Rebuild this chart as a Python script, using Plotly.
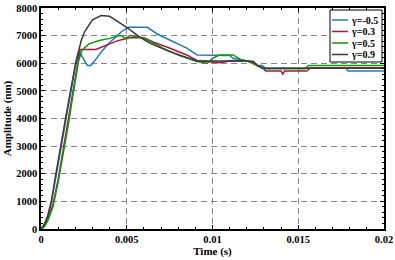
import plotly.graph_objects as go

# gamma = -0.5
t_a = [0, 0.0002, 0.0004, 0.0006, 0.0009, 0.0012, 0.00146, 0.00175, 0.002, 0.00225, 0.0025, 0.0027, 0.0029,
       0.0031, 0.0035, 0.0040, 0.0044, 0.0047, 0.0051, 0.0062, 0.0068, 0.0077, 0.0085, 0.0091, 0.0110,
       0.0112, 0.0123, 0.0126, 0.0129, 0.0131, 0.0178, 0.0179, 0.0200]
y_a = [0, 150, 450, 950, 2000, 3000, 4000, 5000, 5900, 6400, 6150, 5920, 5920,
       6060, 6400, 6750, 6970, 7150, 7300, 7300, 7050, 6800, 6550, 6300, 6280,
       6180, 6060, 5920, 5920, 5820, 5820, 5720, 5720]

# gamma = 0.3
t_b = [0, 0.0002, 0.0004, 0.0007, 0.001, 0.0013, 0.0016, 0.0019, 0.00215, 0.00228, 0.0032, 0.0036,
       0.0040, 0.0044, 0.0048, 0.0052, 0.0060, 0.0066, 0.0073, 0.0085, 0.0091, 0.0104, 0.0112, 0.0123,
       0.0126, 0.0129, 0.0131, 0.0140, 0.0141, 0.0142, 0.0155, 0.0157, 0.0200]
y_b = [0, 100, 350, 900, 1800, 2900, 4000, 5200, 6000, 6500, 6500, 6600,
       6700, 6800, 6870, 6920, 6920, 6750, 6600, 6300, 6100, 6020, 6100, 6060,
       5920, 5850, 5720, 5720, 5600, 5720, 5720, 5830, 5840]

# gamma = 0.5
t_c = [0, 0.0002, 0.0004, 0.0007, 0.001, 0.0013, 0.0016, 0.0019, 0.0022, 0.0024, 0.0028, 0.0034,
       0.0040, 0.0045, 0.0047, 0.0049, 0.0052, 0.0060, 0.0066, 0.0071, 0.0080, 0.0091, 0.0097, 0.0100,
       0.0104, 0.0112, 0.0116, 0.0121, 0.0126, 0.0130, 0.0154, 0.0156, 0.0200]
y_c = [0, 80, 300, 800, 1700, 2700, 3800, 5000, 6100, 6480, 6700, 6820,
       6900, 7000, 7000, 6900, 7000, 6910, 6700, 6550, 6300, 6060, 6000, 6180,
       6300, 6300, 6150, 6060, 5920, 5800, 5800, 5920, 5920]

# gamma = 0.9
t_d = [0, 0.0002, 0.0004, 0.0006, 0.0009, 0.0012, 0.00146, 0.00175, 0.00205, 0.00236, 0.00255, 0.0030,
       0.0035, 0.0040, 0.0046, 0.0050, 0.00576, 0.00634, 0.0075, 0.0085, 0.0091, 0.0118, 0.0124,
       0.0126, 0.0129, 0.0200]
y_d = [0, 180, 500, 1000, 2100, 3100, 4100, 5100, 6100, 6850, 7150, 7570,
       7730, 7700, 7450, 7300, 6950, 6730, 6420, 6200, 6080, 6080, 6060,
       5920, 5820, 5820]

series_names = ["γ=-0.5", "γ=0.3", "γ=0.5", "γ=0.9"]
series_t = [t_a, t_b, t_c, t_d]
series_y = [y_a, y_b, y_c, y_d]
series_colors = ["#1f78c8", "#b5123a", "#0a9a0a", "#3a3a3a"]

x_ticks = [0, 0.005, 0.01, 0.015, 0.02]
x_ticklabels = ["0", "0.005", "0.01", "0.015", "0.02"]
y_ticks = [0, 1000, 2000, 3000, 4000, 5000, 6000, 7000, 8000]
y_ticklabels = ["0", "1000", "2000", "3000", "4000", "5000", "6000", "7000", "8000"]

FONT = "Liberation Serif"
W, H = 395, 260
ML, MR, MT, MB = 41, 11, 8, 31
PW, PH = W - ML - MR, H - MT - MB


def px2paper_x(px):
    return (px - ML) / PW


def px2paper_y(py):
    return (H - MB - py) / PH


fig = go.Figure()
for name, t, y, c in zip(series_names, series_t, series_y, series_colors):
    fig.add_trace(go.Scatter(x=t, y=y, mode="lines", name=name,
                             line=dict(color=c, width=1.5), showlegend=False))

axis_common = dict(
    showline=True, linecolor="black", linewidth=1.5, mirror="allticks",
    ticks="inside", ticklen=4, tickwidth=1, tickcolor="black",
    showgrid=True, gridcolor="#858585", gridwidth=1, griddash="6px,4px",
    zeroline=False, automargin=False,
    tickfont=dict(family=FONT, size=10.5, color="black"),
)

fig.update_xaxes(range=[0, 0.02], tickvals=x_ticks,
                 ticktext=["<b>" + s + "</b>" for s in x_ticklabels],
                 minor=dict(dtick=0.001, ticks="inside", ticklen=2.5, tickcolor="black", showgrid=False),
                 title=dict(text="<b>Time (s)</b>", font=dict(family=FONT, size=11, color="black"), standoff=2),
                 **axis_common)
fig.update_yaxes(range=[0, 8000], tickvals=y_ticks,
                 ticktext=["<b>" + s + "</b>" for s in y_ticklabels],
                 minor=dict(dtick=200, ticks="inside", ticklen=2.5, tickcolor="black", showgrid=False),
                 title=dict(text="<b>Amplitude (nm)</b>", font=dict(family=FONT, size=11, color="black"), standoff=2),
                 **axis_common)

# compact legend box (drawn in paper coordinates)
shapes = [dict(type="rect", xref="paper", yref="paper",
               x0=px2paper_x(330), x1=px2paper_x(382), y0=px2paper_y(62), y1=px2paper_y(10),
               fillcolor="white", line=dict(color="black", width=1), layer="above")]
annotations = []
row_y = [20, 31.5, 43, 54.5]
for name, c, ry in zip(series_names, series_colors, row_y):
    shapes.append(dict(type="line", xref="paper", yref="paper",
                       x0=px2paper_x(332), x1=px2paper_x(348), y0=px2paper_y(ry), y1=px2paper_y(ry),
                       line=dict(color=c, width=1.5), layer="above"))
    annotations.append(dict(xref="paper", yref="paper", x=px2paper_x(349), y=px2paper_y(ry),
                            xanchor="left", yanchor="middle", showarrow=False,
                            text="<b>" + name + "</b>",
                            font=dict(family=FONT, size=10, color="black")))

fig.update_layout(
    width=W, height=H,
    margin=dict(l=ML, r=MR, t=MT, b=MB, autoexpand=False),
    plot_bgcolor="white", paper_bgcolor="white",
    showlegend=False,
    shapes=shapes, annotations=annotations,
)

fig.write_html("out.html", config={"displayModeBar": False},
               post_script="document.body.style.margin='0';")
